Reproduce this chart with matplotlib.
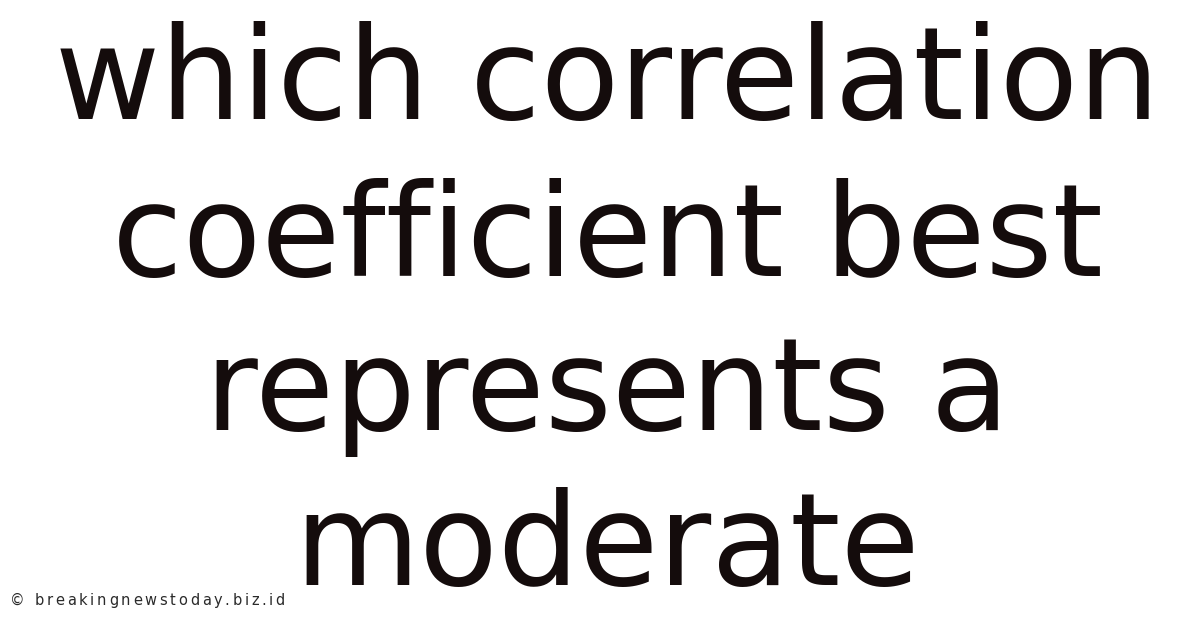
import matplotlib
matplotlib.use("Agg")
import matplotlib.pyplot as plt

title_lines = ["which correlation", "coefficient best", "represents a", "moderate"]
watermark = "© breakingnewstoday.biz.id"

W, H = 1200, 628
fig = plt.figure(figsize=(W / 100, H / 100), dpi=100)
fig.patch.set_facecolor("white")

baselines = [119, 276, 430, 585]
for line, yb in zip(title_lines, baselines):
    fig.text(607 / W, 1 - yb / H, line, ha="center", va="baseline",
             fontsize=92.5, family="DejaVu Sans", color="#140c0c")

# watermark with letter spacing
fig.canvas.draw()
renderer = fig.canvas.get_renderer()
x = 10
yb = 605
for ch in watermark:
    t = fig.text(x / W, 1 - yb / H, ch, ha="left", va="baseline",
                 fontsize=10.5, family="DejaVu Sans", color="#2a2a2a")
    bb = t.get_window_extent(renderer)
    if ch == " ":
        adv = 4.5
    else:
        adv = bb.width
    x += adv + 2.7

fig.savefig("out.png", dpi=100, facecolor="white")
